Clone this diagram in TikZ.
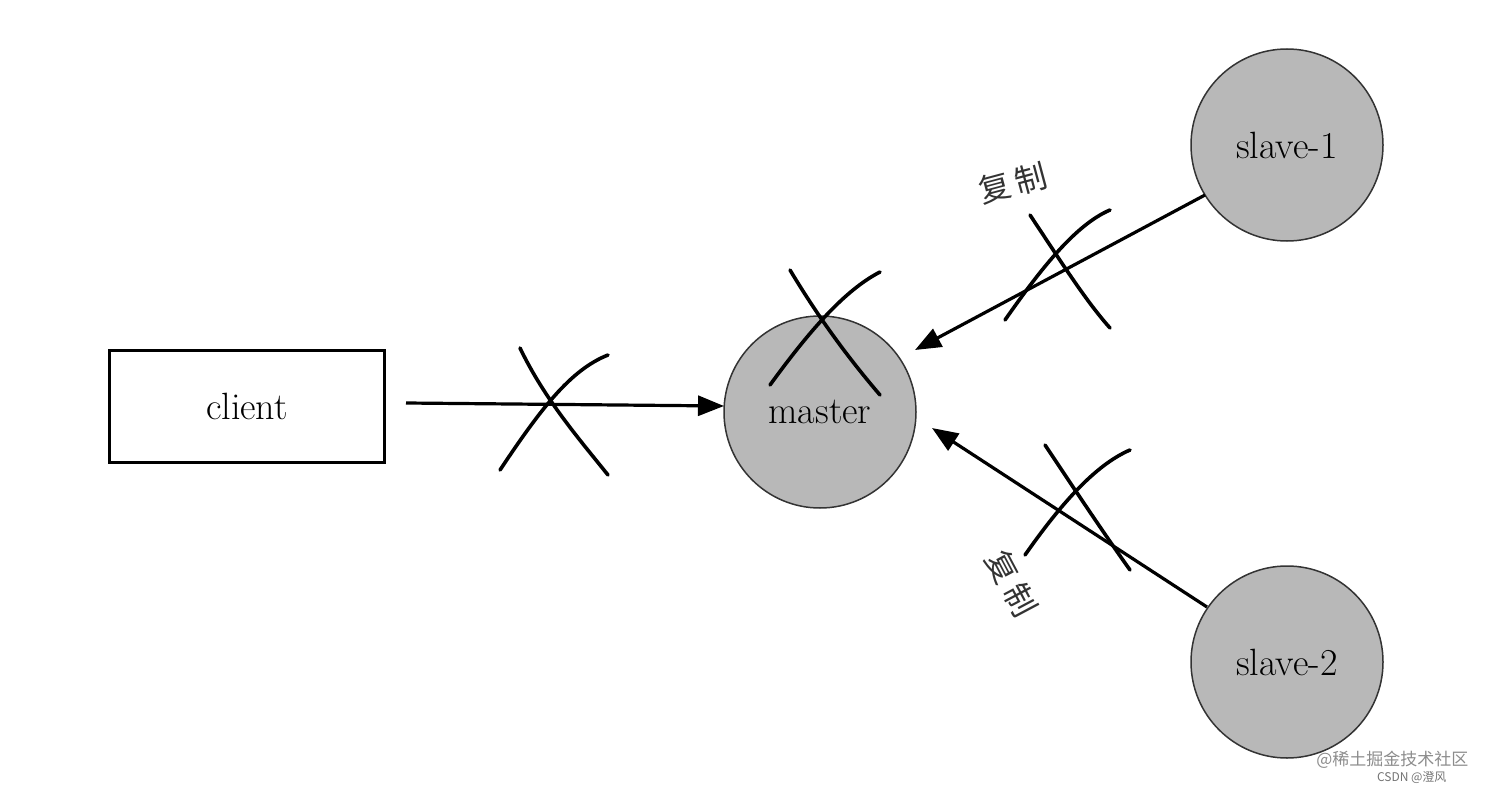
\documentclass[tikz,border=0pt]{standalone}
\usepackage{fontspec}
\newfontfamily\cjk{Noto Sans CJK SC}
\usetikzlibrary{arrows.meta}
\begin{document}
\begin{tikzpicture}[x=1pt,y=-1pt,
  circ/.style={circle,draw=black!80,fill=black!28,line width=1.5pt,minimum size=192pt,inner sep=0pt,font=\fontsize{38}{40}\selectfont},
  conn/.style={line width=3.2pt,-{Triangle[length=26pt,width=20pt]}},
  cross/.style={line width=3.6pt,line cap=round},
  lbl/.style={font=\cjk\fontsize{32}{34}\selectfont,text=black!80}]
\useasboundingbox (0,0) rectangle (1492,792);
\node[draw,line width=3pt,minimum width=275pt,minimum height=112pt,font=\fontsize{38}{40}\selectfont] (client) at (247,406) {client};
\node[circ] (master) at (820,412) {master};
\node[circ] (s1) at (1287,145) {slave-1};
\node[circ] (s2) at (1287,662) {slave-2};
\coordinate (m1) at (915,350);
\coordinate (m2) at (932,428);
\coordinate (mc) at (724,406);
\draw[conn] (client.east)++(20,-3) -- (mc);
\draw[conn] (1205,195) -- (m1);
\draw[conn] (1207,607) -- (m2);
\draw[cross] (500,470) .. controls (540,410) and (570,370) .. (608,355);
\draw[cross] (520,348) .. controls (545,400) and (580,440) .. (608,475);
\draw[cross] (770,385) .. controls (810,330) and (845,290) .. (880,272);
\draw[cross] (790,270) .. controls (820,320) and (850,360) .. (880,395);
\draw[cross] (1005,320) .. controls (1040,270) and (1075,225) .. (1110,210);
\draw[cross] (1030,215) .. controls (1060,260) and (1085,300) .. (1110,328);
\draw[cross] (1025,555) .. controls (1060,505) and (1095,465) .. (1130,450);
\draw[cross] (1045,445) .. controls (1075,490) and (1105,535) .. (1130,570);
\node[lbl,rotate=15] (l1) at (1013,183) {复\,制};
\node[lbl,rotate=-62] (l2) at (1012,583) {复\,制};
\node[font=\cjk\fontsize{17}{18}\selectfont,text=black!45,anchor=east] (w1) at (1472,760) {@稀土掘金技术社区};
\node[font=\cjk\fontsize{12}{13}\selectfont,text=black!55,anchor=east] (w2) at (1450,778) {CSDN @澄风};
\end{tikzpicture}
\end{document}
